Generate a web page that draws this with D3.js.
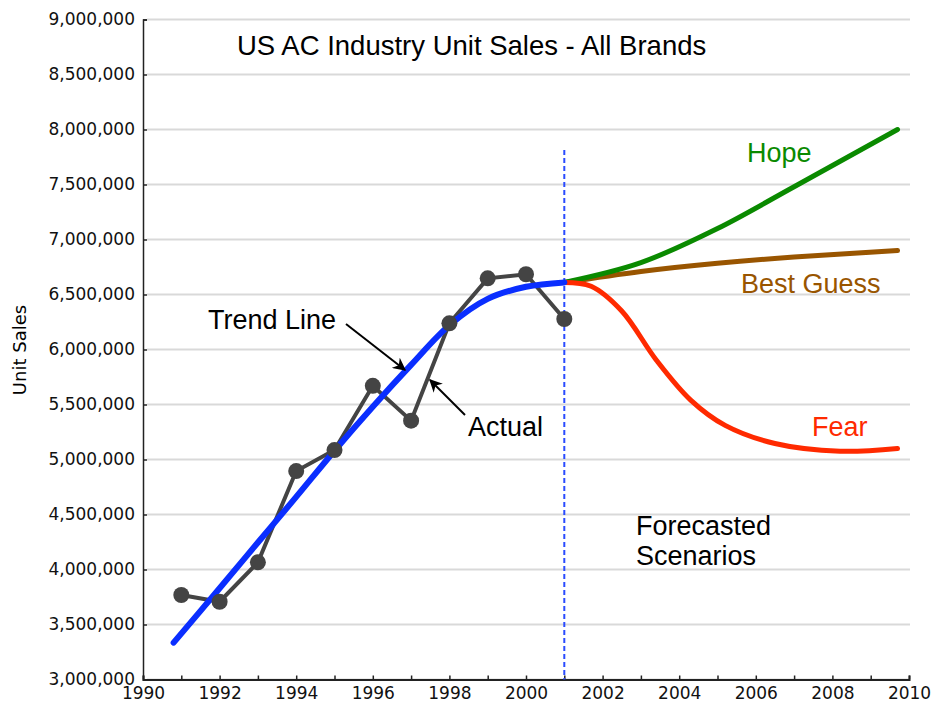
<!DOCTYPE html>
<html>
<head>
<meta charset="utf-8">
<script src="https://cdn.jsdelivr.net/npm/d3@7"></script>
<style>
  body { margin: 0; background: #fff; }
  svg { display: block; }
  .ann { font-family: "Liberation Sans", Arial, sans-serif; font-size: 27px; }
  .tick text { font-family: "DejaVu Sans", Verdana, sans-serif; font-size: 17px; fill: #111; }
</style>
</head>
<body>
<svg width="932" height="706"></svg>
<script>
// actual sales, 1991-2001
var actualYears = [1991, 1992, 1993, 1994, 1995, 1996, 1997, 1998, 1999, 2000, 2001];
var actualSales = [3768000, 3707000, 4065000, 4895000, 5086000, 5670000, 5353000, 6238000, 6647000, 6684000, 6277000];

// fitted trend
var trendYears = [1990.8, 1992, 1993, 1994, 1995, 1996, 1997, 1998, 1999, 2000, 2001];
var trendSales = [3335000, 3830000, 4245000, 4660000, 5080000, 5480000, 5860000, 6220000, 6460000, 6570000, 6610000];

// scenarios
var hopeYears = [2001, 2003, 2005, 2007, 2009.7];
var hopeSales = [6610000, 6790000, 7100000, 7480000, 8000000];
var guessYears = [2001, 2003, 2005, 2007, 2009.7];
var guessSales = [6610000, 6710000, 6785000, 6840000, 6900000];
var fearYears = [2001, 2001.7, 2002.5, 2003.4, 2004.3, 2005.2, 2006.5, 2008.2, 2009.7];
var fearSales = [6610000, 6575000, 6350000, 5905000, 5540000, 5310000, 5145000, 5075000, 5100000];

var yTicks = d3.range(3000000, 9000001, 500000);
var forecastStart = 2001;

var svg = d3.select("svg");
var plotLeft = 143, plotRight = 909, plotTop = 19.5, plotBottom = 679.5;

var x = d3.scaleLinear().domain([1990, 2010]).range([plotLeft, plotRight]);
var y = d3.scaleLinear().domain([3000000, 9000000]).range([plotBottom, plotTop]);

// grid
svg.append("g").selectAll("line").data(yTicks).enter().append("line")
  .attr("x1", plotLeft + 4).attr("x2", plotRight + 1)
  .attr("y1", function(d) { return y(d); }).attr("y2", function(d) { return y(d); })
  .attr("stroke", "#d9d9d9").attr("stroke-width", 2);

// y axis
var yAxis = svg.append("g").attr("transform", "translate(" + plotLeft + ",0)")
  .call(d3.axisLeft(y).tickValues(yTicks).tickFormat(d3.format(",")).tickSize(-4).tickPadding(8));
yAxis.select(".domain").attr("stroke", "#222").attr("stroke-width", 1.5);
yAxis.selectAll(".tick line").attr("stroke", "#222").attr("stroke-width", 1.5);

// x axis
var xAxis = svg.append("g").attr("transform", "translate(0," + plotBottom + ")")
  .call(d3.axisBottom(x).ticks(20).tickFormat(function(d) { return d % 2 === 0 ? d : ""; }).tickSize(-4).tickPadding(10));
xAxis.select(".domain").attr("stroke", "#222").attr("stroke-width", 2);
xAxis.selectAll(".tick line").attr("stroke", "#222").attr("stroke-width", 1.5);
xAxis.selectAll(".tick text").attr("dy", "0.55em");

svg.append("text")
  .attr("transform", "translate(26,350) rotate(-90)")
  .attr("text-anchor", "middle")
  .style("font-family", "DejaVu Sans, Verdana, sans-serif").style("font-size", "18px")
  .text("Unit Sales");

// forecast divider
svg.append("line")
  .attr("x1", x(forecastStart)).attr("x2", x(forecastStart))
  .attr("y1", 150).attr("y2", plotBottom)
  .attr("stroke", "#2a4bff").attr("stroke-width", 2).attr("stroke-dasharray", "5,3");

function curveLine(xs, ys, color, w, curve) {
  var pts = xs.map(function(d, i) { return [d, ys[i]]; });
  svg.append("path")
    .datum(pts)
    .attr("fill", "none").attr("stroke", color).attr("stroke-width", w)
    .attr("stroke-linecap", "round").attr("stroke-linejoin", "round")
    .attr("d", d3.line().x(function(d) { return x(d[0]); }).y(function(d) { return y(d[1]); }).curve(curve));
}

curveLine(guessYears, guessSales, "#995500", 5, d3.curveNatural);
curveLine(hopeYears, hopeSales, "#0a8a00", 5, d3.curveMonotoneX);
curveLine(fearYears, fearSales, "#ff2a00", 5, d3.curveCatmullRom);

// actual
var act = actualYears.map(function(d, i) { return [d, actualSales[i]]; });
svg.append("path").datum(act)
  .attr("fill", "none").attr("stroke", "#444").attr("stroke-width", 4)
  .attr("d", d3.line().x(function(d) { return x(d[0]); }).y(function(d) { return y(d[1]); }));

curveLine(trendYears, trendSales, "#0a2eff", 6, d3.curveCatmullRom);

svg.append("g").selectAll("circle").data(act).enter().append("circle")
  .attr("cx", function(d) { return x(d[0]); }).attr("cy", function(d) { return y(d[1]); })
  .attr("r", 8).attr("fill", "#444");

// arrows
svg.append("defs").append("marker")
  .attr("id", "arr").attr("viewBox", "0 0 10 10").attr("refX", 9).attr("refY", 5)
  .attr("markerWidth", 13).attr("markerHeight", 13).attr("markerUnits", "userSpaceOnUse")
  .attr("orient", "auto")
  .append("path").attr("d", "M0,0 L10,5 L0,10 L3,5 Z").attr("fill", "#000");

var arrows = [[346, 324, 405, 370], [465, 415, 430, 380]];
svg.append("g").selectAll("line").data(arrows).enter().append("line")
  .attr("x1", function(d) { return d[0]; }).attr("y1", function(d) { return d[1]; })
  .attr("x2", function(d) { return d[2]; }).attr("y2", function(d) { return d[3]; })
  .attr("stroke", "#000").attr("stroke-width", 2).attr("marker-end", "url(#arr)");

// text
var labels = [
  { t: "US AC Industry Unit Sales - All Brands", x: 237, y: 55, c: "#000", s: 27.5 },
  { t: "Trend Line", x: 208, y: 329, c: "#000", s: 27 },
  { t: "Actual", x: 468, y: 436, c: "#000", s: 27 },
  { t: "Hope", x: 747, y: 162, c: "#0a8a00", s: 27 },
  { t: "Best Guess", x: 741, y: 293, c: "#995500", s: 27 },
  { t: "Fear", x: 812, y: 436, c: "#ff2a00", s: 27 },
  { t: "Forecasted", x: 636, y: 535, c: "#000", s: 27 },
  { t: "Scenarios", x: 636, y: 565, c: "#000", s: 27 }
];
svg.append("g").selectAll("text").data(labels).enter().append("text")
  .attr("class", "ann")
  .attr("x", function(d) { return d.x; }).attr("y", function(d) { return d.y; })
  .attr("fill", function(d) { return d.c; })
  .style("font-size", function(d) { return d.s + "px"; })
  .text(function(d) { return d.t; });
</script>
</body>
</html>
